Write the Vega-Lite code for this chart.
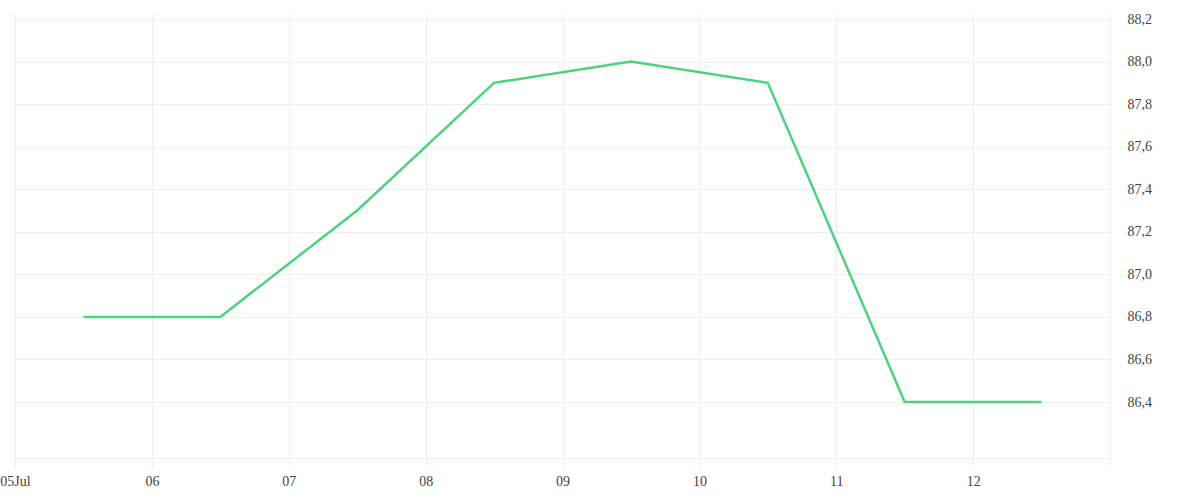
{
  "$schema": "https://vega.github.io/schema/vega-lite/v6.json",
  "autosize": {"type": "none"},
  "padding": {"left": 15, "top": 12, "right": 90, "bottom": 42},
  "width": 1095,
  "height": 446,
  "background": "white",
  "config": {
    "view": {"stroke": null},
    "axis": {
      "labelFont": "Liberation Serif",
      "labelFontSize": 14,
      "labelColor": "#444444",
      "gridColor": "#eeeeee",
      "gridWidth": 1,
      "tickColor": "#eeeeee",
      "domainColor": "#eeeeee",
      "title": null
    }
  },
  "data": {
    "values": [
      {"date": "2024-07-05T12:00:00", "value": 86.8},
      {"date": "2024-07-06T12:00:00", "value": 86.8},
      {"date": "2024-07-07T12:00:00", "value": 87.3},
      {"date": "2024-07-08T12:00:00", "value": 87.9},
      {"date": "2024-07-09T12:00:00", "value": 88.0},
      {"date": "2024-07-10T12:00:00", "value": 87.9},
      {"date": "2024-07-11T12:00:00", "value": 86.4},
      {"date": "2024-07-12T12:00:00", "value": 86.4}
    ]
  },
  "mark": {"type": "line", "color": "#4fd27c", "strokeWidth": 2.5, "clip": true},
  "encoding": {
    "x": {
      "field": "date",
      "type": "temporal",
      "scale": {
        "domain": [
          {"year": 2024, "month": 7, "date": 5},
          {"year": 2024, "month": 7, "date": 13}
        ]
      },
      "axis": {
        "values": [
          {"year": 2024, "month": 7, "date": 5},
          {"year": 2024, "month": 7, "date": 6},
          {"year": 2024, "month": 7, "date": 7},
          {"year": 2024, "month": 7, "date": 8},
          {"year": 2024, "month": 7, "date": 9},
          {"year": 2024, "month": 7, "date": 10},
          {"year": 2024, "month": 7, "date": 11},
          {"year": 2024, "month": 7, "date": 12},
          {"year": 2024, "month": 7, "date": 13}
        ],
        "labelExpr": "date(datum.value) == 13 ? '' : (date(datum.value) == 5 ? '05Jul' : timeFormat(datum.value, '%d'))",
        "tickSize": 10,
        "labelPadding": 6,
        "labelFlush": false,
        "labelOverlap": false
      }
    },
    "y": {
      "field": "value",
      "type": "quantitative",
      "scale": {"domain": [86.137, 88.233], "nice": false, "zero": false},
      "axis": {
        "orient": "right",
        "values": [86.4, 86.6, 86.8, 87.0, 87.2, 87.4, 87.6, 87.8, 88.0, 88.2],
        "labelExpr": "replace(format(datum.value, '.1f'), '.', ',')",
        "domain": false,
        "ticks": false,
        "labelPadding": 17
      }
    }
  }
}
